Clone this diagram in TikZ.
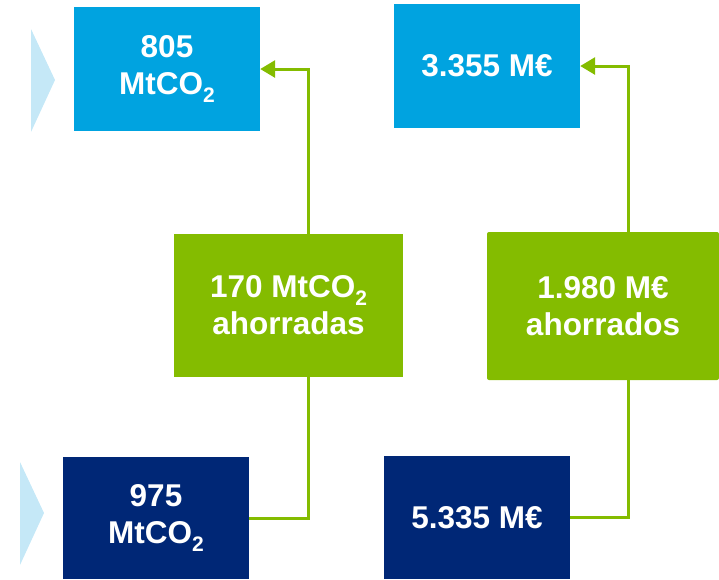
\documentclass[tikz,border=0pt]{standalone}
\usepackage{fontspec}
\setmainfont{Liberation Sans}
\usetikzlibrary{arrows.meta}
\definecolor{lblue}{RGB}{0,163,224}
\definecolor{navy}{RGB}{0,39,118}
\definecolor{lgreen}{RGB}{132,188,0}
\definecolor{tri}{RGB}{197,232,247}
\newcommand{\subtwo}{\raisebox{-0.24em}{\fontsize{21}{21}\selectfont 2}}
\begin{document}
\begin{tikzpicture}[x=1pt,y=-1pt,
  box/.style={inner sep=0pt, text=white, align=center,
    font=\fontsize{31.5}{37}\selectfont\bfseries,
    minimum width=186pt, minimum height=124pt},
  topbox/.style={box, fill=lblue},
  botbox/.style={box, fill=navy, minimum height=122pt},
  savebox/.style={box, fill=lgreen},
  conn/.style={draw=lgreen, line width=3pt},
  arr/.style={conn, -{Triangle[length=15pt,width=17pt]}},
  marker/.style={fill=tri, draw=none}]
\useasboundingbox (0,0) rectangle (719,579);
\fill[marker] (31,29) -- (55,80) -- (31,132) -- cycle;
\fill[marker] (20,462) -- (44,513) -- (20,565) -- cycle;
\node[topbox] (tl) at (167,69) {805\\MtCO\subtwo};
\node[topbox] (tr) at (487,66) {3.355 M€};
\node[savebox, minimum width=229pt, minimum height=143pt] (gl) at (288.5,305.5) {170 MtCO\subtwo\\ahorradas};
\node[savebox, minimum width=232pt, minimum height=148pt, rounded corners=2pt] (gr) at (603,306) {1.980 M€\\ahorrados};
\node[botbox] (bl) at (156,518) {975\\MtCO\subtwo};
\node[botbox, minimum height=123pt] (br) at (477,517.5) {5.335 M€};
\draw[conn] (bl.east) -| ([xshift=19.5pt]gl.south);
\draw[arr] ([xshift=19.5pt]gl.north) |- (tl.east);
\draw[conn] (br.east) -| ([xshift=25pt]gr.south);
\draw[arr] ([xshift=25pt]gr.north) |- (tr.east);
\end{tikzpicture}
\end{document}
